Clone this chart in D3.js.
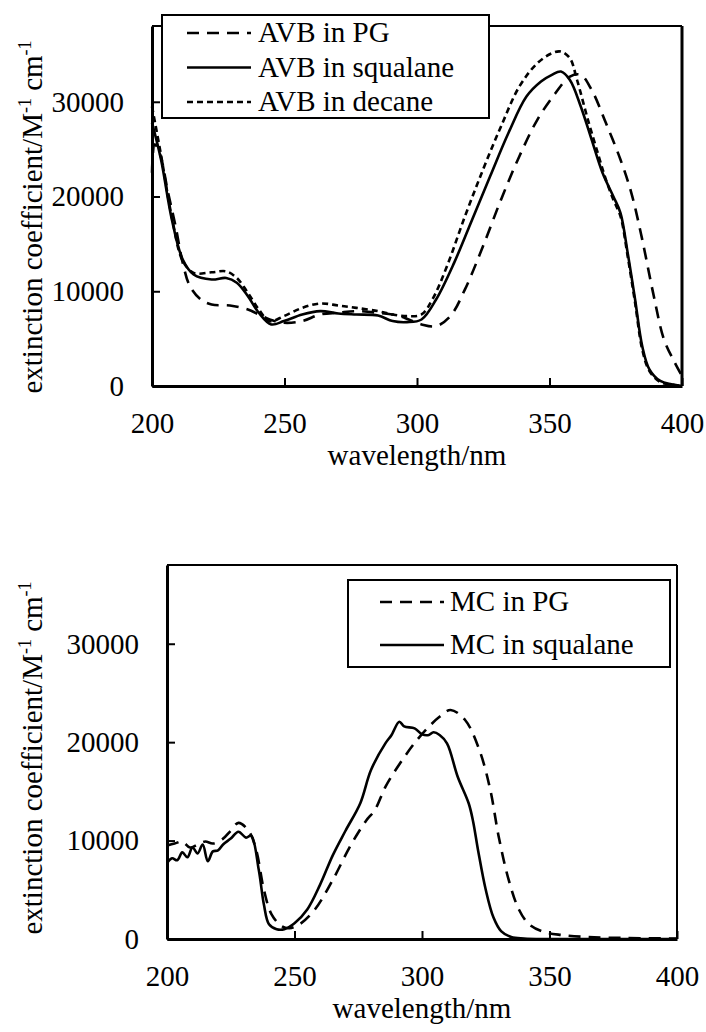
<!DOCTYPE html>
<html>
<head>
<meta charset="utf-8">
<script src="https://cdn.jsdelivr.net/npm/d3@7"></script>
<style>
  body { margin: 0; background: #fff; }
  text, tspan { font-family: "Liberation Serif", "Times New Roman", Tinos !important; }
</style>
</head>
<body>
<svg width="706" height="1032" font-family="Liberation Serif"></svg>
<script>
// AVB spectra (top panel)
const avbPgNm = [200, 201, 203, 206, 208.9, 211.6, 214.3, 218.4, 222.5, 229.4, 236.2, 240.3, 244.4, 249.8, 256.7, 263.5, 270.3, 277.1, 285.3, 293.5, 301.7, 307.2, 312.6, 318.1, 324.9, 331.7, 338.6, 345.4, 352.2, 357.7, 361.8, 365.9, 371.3, 376.8, 380.9, 385, 389.1, 393.2, 397.3, 400]
const avbPgEps = [22500, 25500, 24500, 20500, 16860, 13000, 10540, 9130, 8600, 8500, 8080, 7550, 7020, 6670, 6850, 7550, 7730, 7900, 7730, 7380, 6500, 6320, 7380, 10200, 14750, 19670, 24230, 28100, 30900, 32660, 32840, 31260, 27750, 23880, 20370, 15450, 9830, 4920, 2460, 1050]

const avbSqNm = [200, 203.4, 207.5, 211.6, 215.7, 222.5, 228, 232, 236.2, 240.3, 245, 249.8, 256.7, 263.5, 270.3, 277.1, 285.3, 290.8, 296.2, 301.7, 307.2, 314, 320.8, 327.6, 334.5, 341.3, 346.8, 350.9, 354.3, 357.7, 361.8, 365.9, 370, 374.1, 376.8, 379.5, 382.3, 385, 387.7, 391.8, 396, 400]
const avbSqEps = [27800, 23900, 17560, 13350, 11770, 11240, 11400, 10900, 9480, 7730, 6500, 6850, 7550, 7900, 7660, 7550, 7440, 6850, 6740, 7020, 9130, 13000, 17560, 22130, 26700, 30550, 32140, 32840, 33190, 32300, 29500, 26000, 22500, 20000, 18260, 14050, 9130, 4200, 1760, 530, 180, 0]

const avbDecNm = [200, 203.4, 207.5, 211.6, 215.7, 222.5, 228, 232, 236.2, 240.3, 244.4, 249.8, 256.7, 263.5, 270.3, 277.1, 285.3, 290.8, 296.2, 301.7, 305.8, 311.3, 318.1, 324.9, 331.7, 338.6, 345.4, 350.9, 354.3, 357.7, 360.4, 364.5, 368.6, 371.3, 374.1, 376.8, 379.5, 382.3, 385, 387.7, 391.8, 396, 400]
const avbDecEps = [29500, 24400, 17800, 13200, 11940, 12000, 12100, 11400, 9830, 8080, 6850, 7380, 8250, 8710, 8500, 8250, 7900, 7550, 7380, 7550, 9130, 12640, 17910, 22830, 27400, 31600, 34070, 35120, 35300, 34600, 32300, 28100, 24230, 21770, 19670, 17900, 13700, 8780, 3860, 1580, 420, 140, 0]

// MC spectra (bottom panel)
const mcPgNm = [200, 203, 206, 209, 212, 215, 218, 222, 225, 228, 232, 235, 238, 241, 245, 248, 252, 258, 265, 272, 278, 281.5, 285.7, 291.4, 297, 302.7, 307, 311.2, 316.9, 322.5, 326.8, 330, 334, 338, 342, 348, 355, 365, 380, 400]
const mcPgEps = [9500, 9700, 9900, 9300, 9600, 9900, 9700, 10200, 11000, 11800, 11000, 9000, 5000, 2500, 1300, 1100, 1500, 3000, 6000, 9500, 12000, 13100, 15480, 17850, 19880, 21570, 22600, 23270, 22250, 19200, 15140, 10500, 6000, 3000, 1500, 700, 400, 200, 100, 50]

const mcSqNm = [200, 202, 204, 206, 208, 210, 212, 214, 216, 218, 220, 222, 225, 228, 231, 233, 236, 238, 240, 243, 246, 250, 255, 260, 265, 270, 275.8, 280, 285.7, 288, 291.1, 293, 297.1, 300, 302.7, 304.5, 306.9, 309.8, 314, 318.3, 320, 322, 325, 328, 331, 335, 340, 350, 400]
const mcSqEps = [7700, 8200, 8000, 8800, 8300, 9300, 8700, 9600, 7900, 8900, 9000, 9600, 10200, 10900, 10300, 10500, 7000, 3500, 1500, 1000, 1000, 1600, 3000, 5500, 8500, 11000, 13800, 17170, 19900, 20700, 22080, 21600, 21400, 20800, 20730, 21000, 20730, 19880, 16490, 13790, 12000, 9000, 5000, 2200, 800, 200, 50, 0, 0]

const xTicks = [200, 250, 300, 350, 400]
const yTicks = [0, 10000, 20000, 30000]

const svg = d3.select('svg')

function zip(xs, ys) {
  return xs.map((x, i) => [x, ys[i]])
}

function panel(box, series, legend) {
  const x = d3.scaleLinear().domain([200, 400]).range([box.left, box.right])
  const y = d3.scaleLinear().domain([0, 38000]).range([box.bottom, box.top])
  const g = svg.append('g')

  // frame: top / right thin, left / bottom thick
  g.append('line').attr('x1', box.left).attr('x2', box.right)
    .attr('y1', box.top).attr('y2', box.top)
    .attr('stroke', '#000').attr('stroke-width', 2)
  g.append('line').attr('x1', box.right).attr('x2', box.right)
    .attr('y1', box.top).attr('y2', box.bottom)
    .attr('stroke', '#000').attr('stroke-width', box.rightW)

  // bottom axis
  const xa = g.append('g')
    .attr('transform', 'translate(0,' + box.bottom + ')')
    .call(d3.axisBottom(x).tickValues(xTicks).tickFormat(d3.format('d'))
      .tickSizeInner(-8).tickSizeOuter(0).tickPadding(26))
  xa.attr('font-family', 'Liberation Serif').attr('font-size', 29)
  xa.select('.domain').attr('stroke-width', 3)
  xa.selectAll('.tick line').attr('stroke-width', 2)
  xa.selectAll('text').attr('dy', '0.71em')

  // left axis
  const ya = g.append('g')
    .attr('transform', 'translate(' + box.left + ',0)')
    .call(d3.axisLeft(y).tickValues(yTicks).tickFormat(d3.format('d'))
      .tickSizeInner(-8).tickSizeOuter(0).tickPadding(28))
  ya.attr('font-family', 'Liberation Serif').attr('font-size', 29)
  ya.select('.domain').attr('stroke-width', 3)
  ya.selectAll('.tick line').attr('stroke-width', 2)

  const line = d3.line()
    .x(d => x(d[0]))
    .y(d => y(d[1]))
    .curve(d3.curveCatmullRom.alpha(0.5))

  series.forEach(s => {
    g.append('path')
      .datum(zip(s.nm, s.eps))
      .attr('fill', 'none')
      .attr('stroke', '#000')
      .attr('stroke-width', 2.6)
      .attr('stroke-dasharray', s.dash)
      .attr('d', line)
  })

  // legend box
  const lg = legend
  g.append('rect')
    .attr('x', lg.x).attr('y', lg.y).attr('width', lg.w).attr('height', lg.h)
    .attr('fill', '#fff').attr('stroke', '#000').attr('stroke-width', 2)
  series.forEach((s, i) => {
    const yy = lg.firstBase + i * lg.step
    g.append('line')
      .attr('x1', lg.lineX1).attr('x2', lg.lineX2)
      .attr('y1', yy - 9).attr('y2', yy - 9)
      .attr('stroke', '#000').attr('stroke-width', 2.6)
      .attr('stroke-dasharray', s.dash)
    g.append('text')
      .attr('x', lg.textX).attr('y', yy)
      .attr('font-family', 'Liberation Serif')
      .attr('font-size', 29)
      .text(s.name)
  })

  // axis titles
  g.append('text')
    .attr('x', (box.left + box.right) / 2)
    .attr('y', box.bottom + 79)
    .attr('text-anchor', 'middle')
    .attr('font-family', 'Liberation Serif')
    .attr('font-size', 29)
    .text('wavelength/nm')

  const yt = g.append('text')
    .attr('transform', 'translate(42,' + box.yTitleMid + ') rotate(-90)')
    .attr('text-anchor', 'middle')
    .attr('font-family', 'Liberation Serif')
    .attr('font-size', 29)
  yt.append('tspan').text('extinction coefficient/M')
  yt.append('tspan').attr('font-size', 18).attr('dy', -11).text('-1')
  yt.append('tspan').attr('dy', 11).text(' cm')
  yt.append('tspan').attr('font-size', 18).attr('dy', -11).text('-1')
}

panel(
  { left: 152, right: 682, top: 26, bottom: 386, rightW: 3, yTitleMid: 217 },
  [
    { name: 'AVB in PG', nm: avbPgNm, eps: avbPgEps, dash: '12,8' },
    { name: 'AVB in squalane', nm: avbSqNm, eps: avbSqEps, dash: null },
    { name: 'AVB in decane', nm: avbDecNm, eps: avbDecEps, dash: '6,4' }
  ],
  { x: 162, y: 15, w: 327, h: 103, firstBase: 42, step: 34.5, lineX1: 187, lineX2: 251, textX: 258 }
)

panel(
  { left: 167, right: 677, top: 565, bottom: 939, rightW: 2, yTitleMid: 758 },
  [
    { name: 'MC in PG', nm: mcPgNm, eps: mcPgEps, dash: '12,8' },
    { name: 'MC in squalane', nm: mcSqNm, eps: mcSqEps, dash: null }
  ],
  { x: 348, y: 580, w: 322, h: 87, firstBase: 611, step: 43, lineX1: 380, lineX2: 444, textX: 450 }
)
</script>
</body>
</html>
